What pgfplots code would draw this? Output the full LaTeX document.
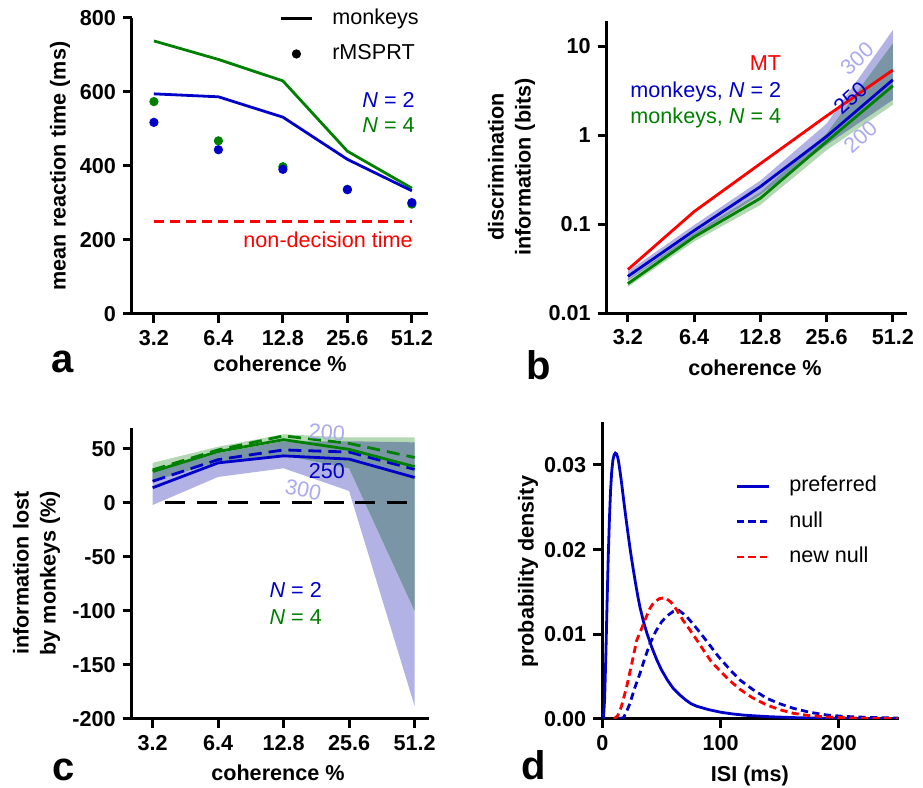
\documentclass[border=0pt]{standalone}
\usepackage{fontspec}
\setmainfont{Liberation Sans}
\usepackage{pgfplots}
\pgfplotsset{compat=1.18}

\definecolor{cblue}{RGB}{0,0,200}
\definecolor{cgreen}{RGB}{0,128,0}
\definecolor{cred}{RGB}{255,0,0}
\definecolor{lav}{RGB}{178,178,228}
\definecolor{lgreen}{RGB}{180,216,180}
\definecolor{dslate}{RGB}{122,150,166}
\definecolor{lavtext}{RGB}{170,170,240}

\newcommand{\txt}{\fontsize{10.8}{13.5}\selectfont}

\pgfplotsset{
  panel/.style={
    scale only axis,
    clip mode=individual,
    axis lines=left,
    axis line style={-, line width=1.5pt},
    tick style={line width=1.5pt, black},
    tick align=outside,
    major tick length=4.5pt,
    tick label style={font=\txt\bfseries},
    label style={font=\txt\bfseries},
    legend style={draw=none, fill=none, inner sep=0pt, row sep=7.2pt,
      column sep=9.5pt, font=\txt,
      nodes={inner sep=0pt, text height=8pt, text depth=2.5pt}},
    legend cell align=left,
  },
  lw/.style={line width=1.4pt},
}

\begin{document}
\begin{tikzpicture}
\useasboundingbox (0,0) rectangle (461.5pt,394pt);

% ---------- a ----------
\begin{axis}[panel, at={(66pt,237pt)}, anchor=south west,
  width=148pt, height=148pt,
  xmin=-0.34, xmax=4.25, ymin=0, ymax=800,
  xtick={0,1,2,3,4}, xticklabels={3.2,6.4,12.8,25.6,51.2},
  ytick={0,200,400,600,800}, yticklabels={0,200,400,600,800},
  xlabel={coherence \%}, ylabel={mean reaction time (ms)},
  xlabel style={at={(axis description cs:0.5,-0.169)}, anchor=center},
  ylabel style={at={(axis description cs:-0.243,0.5)}, anchor=center},
  legend style={at={(axis description cs:0.497,1.035)}, anchor=north west},
  legend image code/.code={\draw[mark repeat=2,mark phase=2,#1] plot coordinates {(0pt,0pt) (7.75pt,0pt) (15.5pt,0pt)};},
]
\addlegendimage{black, lw}
\addlegendentry{monkeys}
\addlegendimage{black, only marks, mark=*, mark size=2.1pt}
\addlegendentry{rMSPRT}
\addplot[cgreen, lw] coordinates {(0,738) (1,688) (2,630) (3,440) (4,340)};
\addplot[cblue, lw] coordinates {(0,595) (1,587) (2,532) (3,418) (4,333)};
\addplot[cred, lw, dash pattern=on 5pt off 3pt] coordinates {(0,250) (4,250)};
\addplot[cgreen, only marks, mark=*, mark size=2.1pt] coordinates {(0,574) (1,468) (2,398) (3,337) (4,297)};
\addplot[cblue, only marks, mark=*, mark size=2.1pt] coordinates {(0,518) (1,444) (2,391) (3,336) (4,301)};
\node[anchor=east, inner sep=0pt, text=cblue, font=\txt] at (axis cs:4.05,578) {\textit{N} = 2};
\node[anchor=east, inner sep=0pt, text=cgreen, font=\txt] at (axis cs:4.05,511) {\textit{N} = 4};
\node[anchor=east, inner sep=0pt, text=cred, font=\txt] at (axis cs:4.02,200) {non-decision time};
\end{axis}

% ---------- b ----------
\begin{axis}[panel, at={(303.35pt,237.35pt)}, anchor=south west,
  width=150pt, height=146.3pt, ymode=log,
  xmin=-0.32, xmax=4.21, ymin=0.01, ymax=19.4,
  xtick={0,1,2,3,4}, xticklabels={3.2,6.4,12.8,25.6,51.2},
  ytick={0.01,0.1,1,10}, yticklabels={0.01,0.1,1,10}, yminorticks=false,
  xlabel={coherence \%}, ylabel={discrimination\\information (bits)},
  xlabel style={at={(axis description cs:0.494,-0.187)}, anchor=center},
  ylabel style={at={(axis description cs:-0.317,0.5)}, anchor=center, align=center},
]
\addplot[draw=none, fill=lav] coordinates {(0,0.0235) (1,0.074) (2,0.215) (3,0.78) (4,2.5) (4,15.2) (3,1.35) (2,0.31) (1,0.098) (0,0.0295)} --cycle;
\addplot[draw=none, fill=lgreen] coordinates {(0,0.0198) (1,0.064) (2,0.165) (3,0.68) (4,2.2) (4,10.8) (3,1.05) (2,0.23) (1,0.08) (0,0.024)} --cycle;
\addplot[draw=none, fill=dslate] coordinates {(0,0.0235) (1,0.074) (2,0.215) (3,0.78) (4,2.5) (4,10.8) (3,1.05) (2,0.23) (1,0.08) (0,0.024)} --cycle;
\addplot[cgreen, lw] coordinates {(0,0.0215) (1,0.072) (2,0.196) (3,0.85) (4,3.6)};
\addplot[cblue, lw] coordinates {(0,0.026) (1,0.085) (2,0.265) (3,0.97) (4,4.2)};
\addplot[cred, lw] coordinates {(0,0.031) (1,0.139) (2,0.48) (3,1.65) (4,5.4)};
\node[rotate=42, text=lavtext, font=\txt] at (axis cs:3.46,7.3) {300};
\node[rotate=42, text=cblue, font=\txt] at (axis cs:3.36,2.6) {250};
\node[rotate=42, text=lavtext, font=\txt] at (axis cs:3.51,0.96) {200};
\node[anchor=east, inner sep=0pt, text=cred, font=\txt] at (axis cs:2.32,6.5) {MT};
\node[anchor=east, inner sep=0pt, text=cblue, font=\txt] at (axis cs:2.32,3.04) {monkeys, \textit{N} = 2};
\node[anchor=east, inner sep=0pt, text=cgreen, font=\txt] at (axis cs:2.32,1.55) {monkeys, \textit{N} = 4};
\end{axis}

% ---------- c ----------
\begin{axis}[panel, at={(65.85pt,34.5pt)}, anchor=south west,
  width=148.65pt, height=145.35pt,
  xmin=-0.32, xmax=4.22, ymin=-200, ymax=69,
  xtick={0,1,2,3,4}, xticklabels={3.2,6.4,12.8,25.6,51.2},
  ytick={-200,-150,-100,-50,0,50}, yticklabels={-200,-150,-100,-50,0,50},
  xlabel={coherence \%}, ylabel={information lost\\by monkeys (\%)},
  xlabel style={at={(axis description cs:0.492,-0.186)}, anchor=center},
  ylabel style={at={(axis description cs:-0.320,0.502)}, anchor=center, align=center},
]
\addplot[draw=none, fill=lav] coordinates {(0,-2) (1,24) (2,32) (3,11) (4,-188) (4,56) (3,57) (2,57) (1,46) (0,28)} --cycle;
\addplot[draw=none, fill=lgreen] coordinates {(0,20) (1,38) (2,44) (3,32) (4,-100) (4,60.5) (3,60.5) (2,63.5) (1,52) (0,37)} --cycle;
\addplot[draw=none, fill=dslate] coordinates {(0,20) (1,38) (2,44) (3,32) (4,-100) (4,56) (3,57) (2,57) (1,46) (0,28)} --cycle;
\addplot[black, line width=1.5pt, dash pattern=on 10pt off 5.85pt] coordinates {(0.19,0) (3.9,0)};
\addplot[cblue, lw, dash pattern=on 6.5pt off 3.5pt] coordinates {(0,20) (1,40) (2,49) (3,47) (4,31)};
\addplot[cblue, lw] coordinates {(0,14) (1,37) (2,43.5) (3,40.5) (4,23.5)};
\addplot[cgreen, lw, dash pattern=on 6.5pt off 3.5pt] coordinates {(0,30.5) (1,49) (2,62) (3,55) (4,42)};
\addplot[cgreen, lw] coordinates {(0,29) (1,47.5) (2,58.5) (3,49.5) (4,33.5)};
\node[text=lavtext, font=\txt, rotate=-4] at (axis cs:2.66,65.1) {200};
\node[text=cblue, font=\txt] at (axis cs:2.66,29) {250};
\node[text=lavtext, font=\txt, rotate=-12] at (axis cs:2.30,12) {300};
\node[anchor=west, inner sep=0pt, text=cblue, font=\txt] at (axis cs:1.78,-80.6) {\textit{N} = 2};
\node[anchor=west, inner sep=0pt, text=cgreen, font=\txt] at (axis cs:1.78,-105.6) {\textit{N} = 4};
\end{axis}

% ---------- d ----------
\begin{axis}[panel, at={(301.15pt,34.5pt)}, anchor=south west,
  width=148.5pt, height=148.65pt,
  xmin=0, xmax=251, ymin=0, ymax=0.0351,
  xtick={0,100,200}, xticklabels={0,100,200},
  ytick={0,0.01,0.02,0.03}, yticklabels={0.00,0.01,0.02,0.03},
  scaled y ticks=false,
  xlabel={ISI (ms)}, ylabel={probability density},
  xlabel style={at={(axis description cs:0.497,-0.192)}, anchor=center},
  ylabel style={at={(axis description cs:-0.25,0.495)}, anchor=center},
  legend style={at={(axis description cs:0.447,0.82)}, anchor=north west},
  legend image code/.code={\draw[#1] (0pt,0pt) -- (16pt,0pt);},
]
\addplot[cblue, lw] coordinates {
 (0,0) (1,0) (2,0.0025) (3,0.0075) (4,0.0135) (5,0.019) (6,0.0235) (7,0.027)
 (8,0.0293) (9,0.0306) (10,0.0312) (11,0.0314) (12,0.0313) (13,0.0309)
 (14,0.0302) (16,0.0282) (18,0.0259) (20,0.0237) (22,0.0216) (24,0.0196)
 (26,0.0178) (28,0.0161) (30,0.0145) (32,0.0131) (35,0.0114) (38,0.0100)
 (42,0.0084) (46,0.0070) (50,0.0058) (55,0.0046) (60,0.0036) (65,0.0029)
 (70,0.0023) (75,0.0018) (80,0.0015) (90,0.0011) (100,0.0008) (110,0.0006)
 (120,0.00045) (140,0.00028) (160,0.00017) (180,0.0001) (200,0.00006) (250,0.00002)};
\addlegendentry{preferred}
\addplot[cblue, lw, dash pattern=on 3.6pt off 2.2pt] coordinates {
 (15,0) (18,0.0002) (20,0.0007) (23.4,0.00185) (27,0.0035) (31.9,0.0054)
 (36,0.0072) (40.3,0.0089) (45,0.0103) (50.2,0.01149) (55,0.0122) (60,0.0127)
 (65,0.0128) (71.3,0.0121) (78,0.0110) (85.4,0.0097) (92,0.0085) (98,0.0074)
 (108,0.0058) (116.4,0.0046) (127,0.0035) (139,0.00244) (150,0.0018)
 (161.5,0.00126) (175,0.0008) (189.7,0.00047) (205,0.0003) (223,0.0002) (250,0.0001)};
\addlegendentry{null}
\addplot[cred, lw, dash pattern=on 3.6pt off 2.2pt] coordinates {
 (10,0) (13,0.0004) (16,0.0014) (20.6,0.0038) (25,0.0066) (29.1,0.0093)
 (33,0.0106) (36.1,0.0117) (40,0.0130) (43.1,0.01366) (48,0.0142) (53,0.01432)
 (58,0.0138) (62.9,0.01287) (68,0.0117) (74.1,0.0105) (80,0.0093) (85.4,0.00815)
 (92,0.0068) (100,0.0056) (108,0.0045) (116.4,0.0035) (127,0.0025) (139,0.00165)
 (150,0.0011) (161.5,0.00067) (175,0.0004) (189.7,0.00025) (210,0.00012)
 (230,0.00006) (250,0.00003)};
\addlegendentry{new null}
\end{axis}

\node[font=\fontsize{20}{24}\selectfont\bfseries] at (31.5pt,213pt) {a};
\node[font=\fontsize{20}{24}\selectfont\bfseries] at (269.5pt,211.5pt) {b};
\node[font=\fontsize{20}{24}\selectfont\bfseries] at (32pt,9pt) {c};
\node[font=\fontsize{20}{24}\selectfont\bfseries] at (267pt,11.5pt) {d};
\end{tikzpicture}
\end{document}
